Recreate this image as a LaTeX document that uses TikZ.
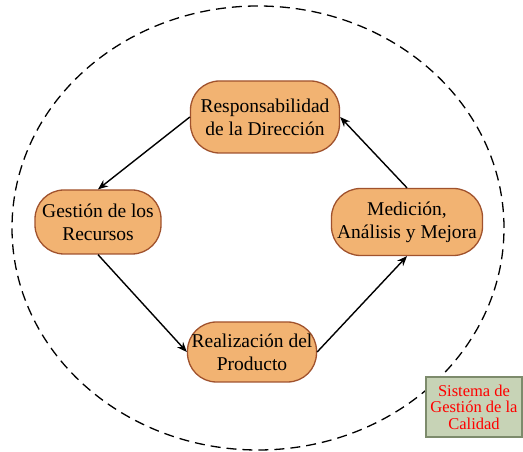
\documentclass[tikz,border=0pt]{standalone}
\usepackage{fontspec}
\setmainfont{Liberation Serif}
\usetikzlibrary{arrows.meta}
\definecolor{procfill}{HTML}{F2B372}
\definecolor{procline}{HTML}{A0522D}
\definecolor{sysfill}{HTML}{C7D3B6}
\definecolor{sysline}{HTML}{7D8B6C}
\tikzset{
  x=1pt,y=1pt,
  proc/.style={rectangle, rounded corners=29pt, draw=procline, line width=1.3pt, fill=procfill,
    align=center, inner sep=0pt,
    font=\fontsize{19.5}{23}\selectfont},
  flow/.style={-{Stealth[length=10pt,width=8pt]}, line width=1.4pt, black},
  sysbox/.style={rectangle, draw=sysline, line width=1.4pt, fill=sysfill,
    align=center, inner sep=0pt, text=red,
    font=\fontsize{16.5}{16.5}\selectfont}
}
\begin{document}
\begin{tikzpicture}
  \useasboundingbox (0,0) rectangle (523,452);
  % system boundary
  \draw[dash pattern=on 10pt off 6pt, line width=1.3pt] (258,224) ellipse [x radius=246, y radius=222];
  % processes
  \node[proc, minimum width=149, minimum height=72] (resp) at (265,335) {Responsabilidad\\de la Dirección};
  \node[proc, minimum width=126, minimum height=64] (rec) at (98,230) {Gestión de los\\Recursos};
  \node[proc, minimum width=151, minimum height=67] (med) at (407,230) {Medición,\\Análisis y Mejora};
  \node[proc, minimum width=129, minimum height=60] (prod) at (252,100) {Realización del\\Producto};
  % cycle
  \draw[flow] (resp.west) -- (rec.north);
  \draw[flow] (rec.south) -- (prod.west);
  \draw[flow] (prod.east) -- (med.south);
  \draw[flow] (med.north) -- (resp.east);
  % label box
  \node[sysbox, minimum width=96, minimum height=60] (sys) at (474,45) {Sistema de\\Gestión de la\\Calidad};
\end{tikzpicture}
\end{document}
